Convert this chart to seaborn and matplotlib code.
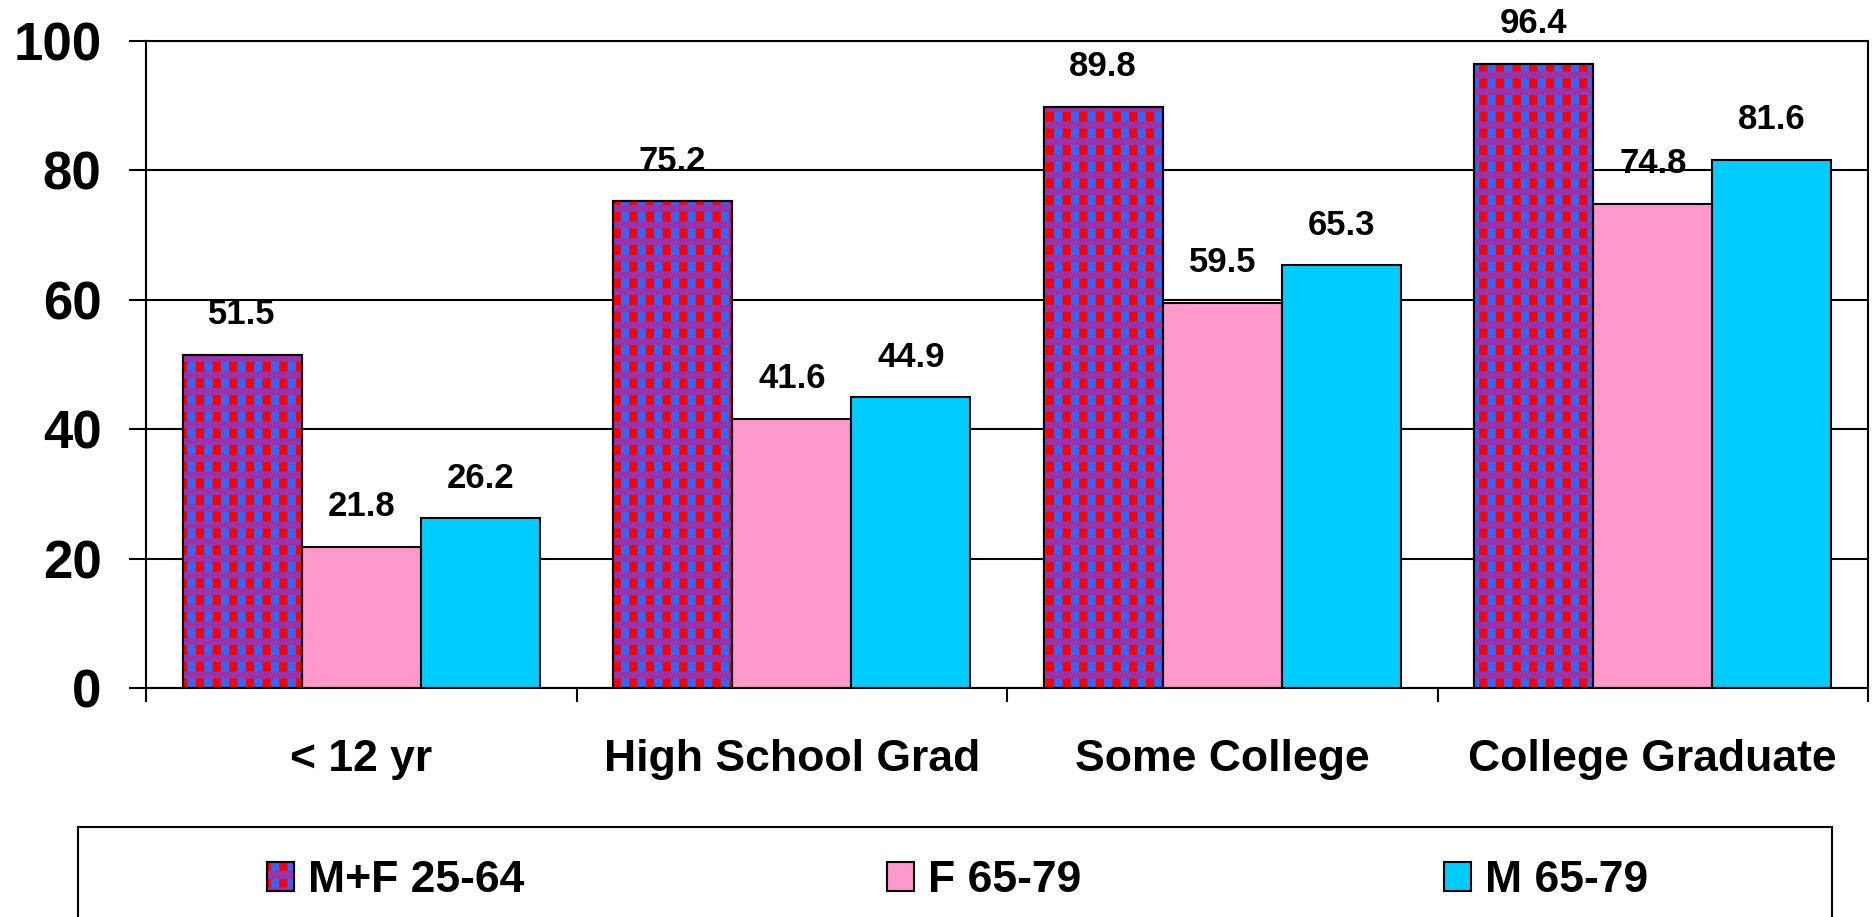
import matplotlib
matplotlib.use('Agg')
import matplotlib.pyplot as plt
import seaborn as sns
import pandas as pd
from matplotlib.colors import to_rgba
from matplotlib.patches import Rectangle, Patch
from matplotlib.legend_handler import HandlerTuple

# data
categories = ['< 12 yr', 'High School Grad', 'Some College', 'College Graduate']
groups = ['M+F 25-64', 'F 65-79', 'M 65-79']
mf_25_64 = [51.5, 75.2, 89.8, 96.4]
f_65_79 = [21.8, 41.6, 59.5, 74.8]
m_65_79 = [26.2, 44.9, 65.3, 81.6]

palette = {'M+F 25-64': '#FF0000', 'F 65-79': '#FF99CC', 'M 65-79': '#00CCFF'}
check_blue = '#3366FF'
check_purple = '#9933AA'

df = pd.DataFrame({
    'edu': categories * 3,
    'grp': [g for g in groups for _ in categories],
    'pct': mf_25_64 + f_65_79 + m_65_79,
})

sns.set_style('ticks')
plt.rcParams['font.family'] = ['Liberation Sans', 'DejaVu Sans']
plt.rcParams['font.weight'] = 'bold'
plt.rcParams['text.color'] = 'black'
plt.rcParams['xtick.color'] = 'black'
plt.rcParams['ytick.color'] = 'black'
plt.rcParams['hatch.linewidth'] = 6


def set_hatch(p, pattern, color, lw):
    p.set_hatch(pattern)
    if hasattr(p, 'set_hatchcolor'):
        p.set_hatchcolor(color)
    else:
        p._hatch_color = to_rgba(color)
    if hasattr(p, 'set_hatch_linewidth'):
        p.set_hatch_linewidth(lw)


fig = plt.figure(figsize=(18.75, 9.17), dpi=100)
ax = fig.add_axes([0.0779, 0.2497, 0.9184, 0.706])

sns.barplot(data=df, x='edu', y='pct', hue='grp', hue_order=groups,
            order=categories, palette=palette, width=0.83, saturation=1,
            edgecolor='black', linewidth=1.5, legend=False, ax=ax)

# checked pattern for the first series: blue columns on red, purple bands on top
for p in ax.containers[0]:
    set_hatch(p, '|', check_blue, 6)
    over = Rectangle(p.get_xy(), p.get_width(), p.get_height(),
                     facecolor='none', edgecolor='black', linewidth=1.5,
                     zorder=p.get_zorder() + 0.1)
    set_hatch(over, '-', check_purple, 5)
    ax.add_patch(over)

for c in ax.containers:
    ax.bar_label(c, fmt='%.1f', padding=17, fontsize=25, fontweight='bold',
                 color='black')

ax.set_xlim(-0.5, 3.5)
ax.set_ylim(0, 100)
ax.set_xlabel('')
ax.set_ylabel('')
ax.set_yticks([0, 20, 40, 60, 80, 100])
ax.tick_params(axis='y', length=12, width=1.5, pad=20, labelsize=38,
               direction='out', left=True, colors='black')
ax.set_xticks(range(len(categories)))
ax.set_xticklabels(categories)
ax.tick_params(axis='x', which='major', length=0, pad=37, labelsize=32,
               labelcolor='black')
ax.set_xticks([-0.5, 0.5, 1.5, 2.5, 3.5], minor=True)
ax.tick_params(axis='x', which='minor', length=10, width=1.5,
               direction='out', bottom=True, color='black')
ax.yaxis.grid(True, color='black', linewidth=1.5)
ax.set_axisbelow(True)
for s in ax.spines.values():
    s.set_color('black')
    s.set_linewidth(1.5)

# legend
base_h = Patch(facecolor=palette['M+F 25-64'], edgecolor='black', linewidth=1.5)
set_hatch(base_h, '|', check_blue, 6)
over_h = Patch(facecolor='none', edgecolor='black', linewidth=1.5)
set_hatch(over_h, '-', check_purple, 5)
handles = [(base_h, over_h),
           Patch(facecolor=palette['F 65-79'], edgecolor='black', linewidth=1.5),
           Patch(facecolor=palette['M 65-79'], edgecolor='black', linewidth=1.5)]
leg = fig.legend(handles, groups, handler_map={tuple: HandlerTuple(ndivide=1)},
                 loc='upper left', bbox_to_anchor=(267 / 1875, 1 - 860 / 917),
                 ncol=3, frameon=False, borderpad=0, borderaxespad=0,
                 fontsize=32, handlelength=0.61, handleheight=0.61,
                 handletextpad=0.32, columnspacing=8.15)
for t in leg.get_texts():
    t.set_color('black')
fig.patches.append(Rectangle((78 / 1875, -0.1), (1832 - 78) / 1875,
                             (917 - 827) / 917 + 0.1, transform=fig.transFigure,
                             fill=False, edgecolor='black', linewidth=1.5))

fig.savefig('out.png', dpi=100)
